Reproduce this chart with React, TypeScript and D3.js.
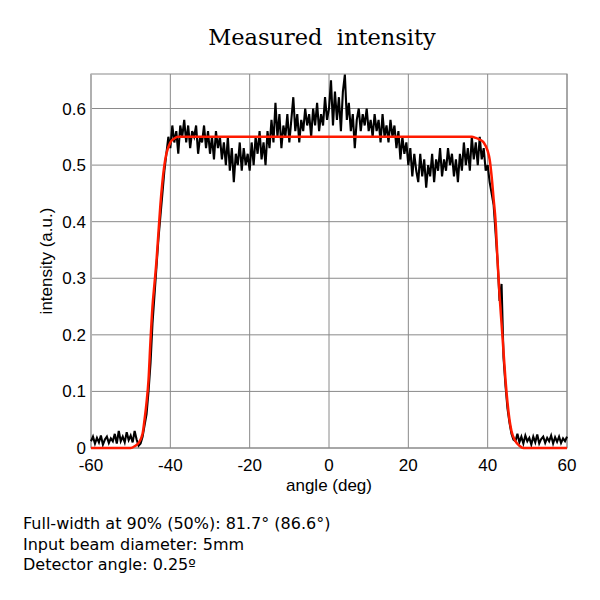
import React from "react";
import * as d3 from "d3";

const title = "Measured  intensity";
const xLabel = "angle (deg)";
const yLabel = "intensity (a.u.)";
const xTicks = [-60, -40, -20, 0, 20, 40, 60];
const yTicks = [0, 0.1, 0.2, 0.3, 0.4, 0.5, 0.6];
const infoLines = [
  "Full-width at 90% (50%): 81.7° (86.6°)",
  "Input beam diameter: 5mm",
  "Detector angle: 0.25º",
];

// measured intensity, sampled from -60 deg in 0.5 deg steps
const measuredStart = -60;
const measuredStep = 0.5;
const measured = [
  // -60 .. -48
  0.012, 0.02, 0.008, 0.018, 0.01, 0.022, 0.006, 0.015, 0.02, 0.009,
  0.017, 0.012, 0.025, 0.008, 0.03, 0.012, 0.02, 0.01, 0.028, 0.014,
  0.022, 0.01, 0.03, 0.015, 0.004,
  // -47.5 .. -40
  0.008, 0.02, 0.04, 0.06, 0.1, 0.15, 0.22, 0.27, 0.32, 0.37,
  0.41, 0.45, 0.49, 0.52, 0.55, 0.53,
  // -39.5 .. -20
  0.57, 0.54, 0.56, 0.52, 0.57, 0.55, 0.58, 0.54, 0.57, 0.53,
  0.56, 0.55, 0.57, 0.52, 0.55, 0.54, 0.57, 0.53, 0.56, 0.52,
  0.55, 0.51, 0.56, 0.53, 0.55, 0.51, 0.54, 0.5, 0.55, 0.49,
  0.53, 0.47, 0.52, 0.5, 0.54, 0.49, 0.53, 0.5, 0.52, 0.49,
  // -19.5 .. 41.5
  0.54, 0.5, 0.55, 0.52, 0.56, 0.51, 0.54, 0.5, 0.56, 0.53,
  0.58, 0.54, 0.61, 0.55, 0.59, 0.53, 0.57, 0.55, 0.59, 0.54,
  0.58, 0.62, 0.56, 0.59, 0.54, 0.58, 0.56, 0.6, 0.57, 0.59,
  0.55, 0.6, 0.57, 0.61, 0.56, 0.59, 0.57, 0.62, 0.58, 0.6,
  0.65, 0.57, 0.63, 0.58, 0.62, 0.56, 0.63, 0.66, 0.58, 0.61,
  0.56, 0.59, 0.53, 0.58, 0.6, 0.56, 0.59, 0.57, 0.6, 0.56,
  0.58, 0.55, 0.59, 0.56, 0.58, 0.54, 0.59, 0.55, 0.57, 0.54,
  0.58, 0.55, 0.57, 0.53, 0.56, 0.51, 0.55, 0.52, 0.54, 0.5,
  0.53, 0.48, 0.52, 0.49, 0.47, 0.52, 0.48, 0.51, 0.46, 0.5,
  0.48, 0.52, 0.47, 0.51, 0.49, 0.53, 0.48, 0.51, 0.49, 0.53,
  0.5, 0.52, 0.48, 0.51, 0.47, 0.52, 0.49, 0.54, 0.5, 0.53,
  0.49, 0.55, 0.51, 0.54, 0.5, 0.55, 0.51, 0.53, 0.49, 0.5,
  0.47, 0.45, 0.43,
  // 42 .. 46.5
  0.38, 0.33, 0.26, 0.29, 0.16, 0.11, 0.07, 0.045, 0.025, 0.015,
  // 47 .. 60
  0.012, 0.025, 0.01, 0.02, 0.008, 0.022, 0.012, 0.018, 0.006, 0.02,
  0.01, 0.024, 0.008, 0.016, 0.02, 0.009, 0.018, 0.012, 0.022, 0.008,
  0.019, 0.011, 0.02, 0.009, 0.017, 0.012, 0.02,
];

// fitted profile (red)
const fitAngles = [
  -60, -50, -49, -48, -47, -46.5, -46, -45.5, -45, -44.5, -44, -43.5, -43,
  -42.5, -42, -41.5, -41, -40, -39, -38, 0, 36, 37, 38, 39, 40, 40.5, 41,
  41.5, 42, 42.5, 43, 43.5, 44, 44.5, 45, 45.5, 46, 47, 48, 49, 60,
];
const fitValues = [
  0, 0, 0.003, 0.009, 0.025, 0.05, 0.08, 0.12, 0.19, 0.25, 0.29, 0.33, 0.38,
  0.43, 0.47, 0.5, 0.52, 0.54, 0.547, 0.55, 0.55, 0.55, 0.548, 0.545, 0.54,
  0.525, 0.51, 0.48, 0.44, 0.4, 0.33, 0.27, 0.22, 0.17, 0.12, 0.08, 0.05,
  0.03, 0.012, 0.004, 0, 0,
];

export default function App() {
  const W = 600;
  const H = 600;
  const m = { left: 91, right: 567, top: 74, bottom: 448 };
  const x = d3.scaleLinear().domain([-60, 60]).range([m.left, m.right]);
  const y = d3.scaleLinear().domain([0, 0.661]).range([m.bottom, m.top]);

  const measuredPts: [number, number][] = measured.map((v, i) => [
    measuredStart + i * measuredStep,
    v,
  ]);
  const fitPts: [number, number][] = fitAngles.map((a, i) => [a, fitValues[i]]);

  const lineLinear = d3
    .line<[number, number]>()
    .x((d) => x(d[0]))
    .y((d) => y(d[1]));
  const lineSmooth = d3
    .line<[number, number]>()
    .x((d) => x(d[0]))
    .y((d) => y(d[1]))
    .curve(d3.curveMonotoneX);

  const grid = "#8a8a8a";
  const tickFont = "Liberation Sans, Arial, sans-serif";

  return (
    <svg
      width={W}
      height={H}
      style={{ position: "absolute", left: 0, top: 0, background: "#fff" }}
    >
      <rect x={0} y={0} width={W} height={H} fill="#fff" />
      <text
        x={322}
        y={45}
        textAnchor="middle"
        fontFamily="DejaVu Serif, serif"
        fontSize={22.5}
        fill="#000"
        style={{ whiteSpace: "pre" }}
      >
        {title}
      </text>

      {xTicks.map((t) => (
        <line
          key={"gx" + t}
          x1={x(t)}
          x2={x(t)}
          y1={m.top}
          y2={m.bottom}
          stroke={grid}
          strokeWidth={1}
        />
      ))}
      {yTicks.map((t) => (
        <line
          key={"gy" + t}
          x1={m.left}
          x2={m.right}
          y1={y(t)}
          y2={y(t)}
          stroke={grid}
          strokeWidth={1}
        />
      ))}
      <rect
        x={m.left}
        y={m.top}
        width={m.right - m.left}
        height={m.bottom - m.top}
        fill="none"
        stroke={grid}
        strokeWidth={1}
      />
      <line x1={m.left} x2={m.left} y1={m.top} y2={m.bottom} stroke="#b0b0b0" strokeWidth={2} />

      <path
        d={lineLinear(measuredPts) || ""}
        fill="none"
        stroke="#000"
        strokeWidth={2.1}
        strokeLinejoin="miter"
      />
      <path
        d={lineSmooth(fitPts) || ""}
        fill="none"
        stroke="#ff1a00"
        strokeWidth={2.5}
      />

      {yTicks.map((t) => (
        <text
          key={"ty" + t}
          x={m.left - 5}
          y={y(t) + 6}
          textAnchor="end"
          fontFamily={tickFont}
          fontSize={17}
          fill="#000"
        >
          {t === 0 ? "0" : t.toFixed(1)}
        </text>
      ))}
      {xTicks.map((t) => (
        <text
          key={"tx" + t}
          x={x(t)}
          y={471}
          textAnchor="middle"
          fontFamily={tickFont}
          fontSize={17}
          fill="#000"
        >
          {t}
        </text>
      ))}
      <text
        x={x(0)}
        y={491}
        textAnchor="middle"
        fontFamily={tickFont}
        fontSize={17}
        fill="#000"
      >
        {xLabel}
      </text>
      <text
        transform={`translate(52, ${(m.top + m.bottom) / 2}) rotate(-90)`}
        textAnchor="middle"
        fontFamily={tickFont}
        fontSize={17}
        fill="#000"
      >
        {yLabel}
      </text>

      {infoLines.map((s, i) => (
        <text
          key={"info" + i}
          x={23}
          y={529 + i * 20.5}
          fontFamily="DejaVu Sans, Verdana, sans-serif"
          fontSize={16}
          fill="#000"
        >
          {s}
        </text>
      ))}
    </svg>
  );
}
